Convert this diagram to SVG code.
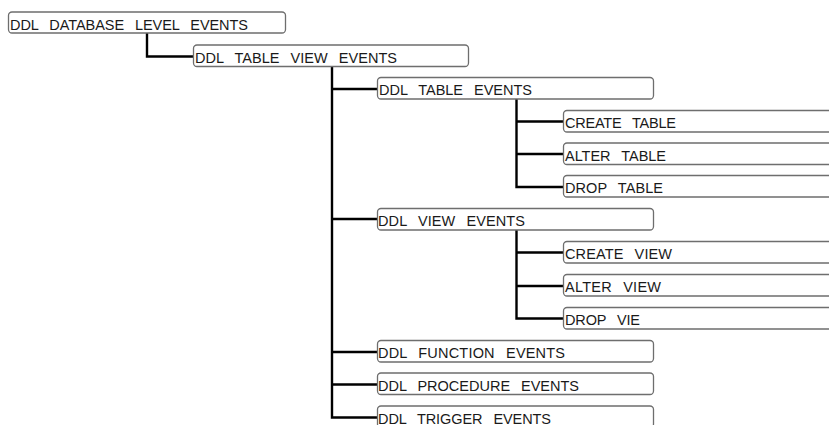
<svg xmlns="http://www.w3.org/2000/svg" width="829" height="425" viewBox="0 0 829 425">
<style>
.box{fill:#fff;stroke:#6e6e6e;stroke-width:1.3}
.t{font-family:"Liberation Sans",Arial,sans-serif;font-size:14.5px;fill:#1a1a1a;word-spacing:7px}
.c{fill:none;stroke:#000;stroke-width:2.4}
</style>
<rect width="829" height="425" fill="#fff"/>
<g id="connectors">
<path class="c" d="M147 33V56.5H193"/>
<path class="c" d="M332 66V417.5H377M332 89H377M332 219H377M332 352H377M332 384.5H377"/>
<path class="c" d="M516.5 99V187H563M516.5 121.5H563M516.5 154H563"/>
<path class="c" d="M516.5 230V318.5H563M516.5 252.5H563M516.5 286H563"/>
</g>
<g id="n1"><rect class="box" x="8.5" y="12" width="277" height="21" rx="3.5"/><text class="t" x="10" y="29.5" textLength="238" lengthAdjust="spacing">DDL DATABASE LEVEL EVENTS</text></g>
<g id="n2"><rect class="box" x="193.5" y="45" width="275" height="21.5" rx="3.5"/><text class="t" x="195" y="62.5" textLength="202" lengthAdjust="spacing">DDL TABLE VIEW EVENTS</text></g>
<g id="n3"><rect class="box" x="377.5" y="77.5" width="276" height="21.5" rx="3.5"/><text class="t" x="379" y="95" textLength="153" lengthAdjust="spacing">DDL TABLE EVENTS</text></g>
<g id="n4"><rect class="box" x="563.5" y="110.5" width="300" height="21.5" rx="3.5"/><text class="t" x="565" y="128" textLength="111" lengthAdjust="spacing">CREATE TABLE</text></g>
<g id="n5"><rect class="box" x="563.5" y="143" width="300" height="21.5" rx="3.5"/><text class="t" x="565" y="160.5" textLength="101" lengthAdjust="spacing">ALTER TABLE</text></g>
<g id="n6"><rect class="box" x="563.5" y="175.5" width="300" height="21.5" rx="3.5"/><text class="t" x="565" y="193" textLength="98" lengthAdjust="spacing">DROP TABLE</text></g>
<g id="n7"><rect class="box" x="377.5" y="208.5" width="276" height="21.5" rx="3.5"/><text class="t" x="378" y="226" textLength="147" lengthAdjust="spacing">DDL VIEW EVENTS</text></g>
<g id="n8"><rect class="box" x="563.5" y="241.5" width="300" height="21.5" rx="3.5"/><text class="t" x="565" y="259" textLength="107" lengthAdjust="spacing">CREATE VIEW</text></g>
<g id="n9"><rect class="box" x="563.5" y="274.5" width="300" height="21.5" rx="3.5"/><text class="t" x="565" y="292" textLength="96" lengthAdjust="spacing">ALTER VIEW</text></g>
<g id="n10"><rect class="box" x="563.5" y="307.5" width="300" height="21.5" rx="3.5"/><text class="t" x="565" y="325" textLength="75" lengthAdjust="spacing">DROP VIE</text></g>
<g id="n11"><rect class="box" x="377.5" y="340.5" width="276" height="21.5" rx="3.5"/><text class="t" x="378" y="358" textLength="187" lengthAdjust="spacing">DDL FUNCTION EVENTS</text></g>
<g id="n12"><rect class="box" x="377.5" y="373" width="276" height="21.5" rx="3.5"/><text class="t" x="378" y="390.5" textLength="201" lengthAdjust="spacing">DDL PROCEDURE EVENTS</text></g>
<g id="n13"><rect class="box" x="377.5" y="406" width="276" height="21.5" rx="3.5"/><text class="t" x="378" y="423.5" textLength="173" lengthAdjust="spacing">DDL TRIGGER EVENTS</text></g>
</svg>
